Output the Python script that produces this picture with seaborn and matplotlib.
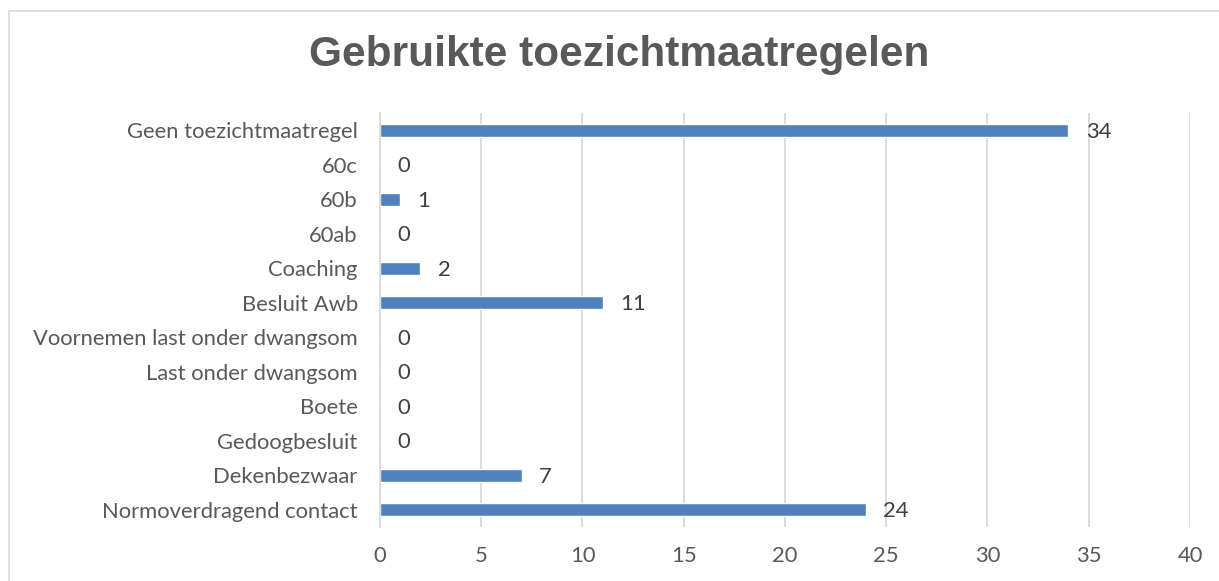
import matplotlib
matplotlib.use("Agg")
import matplotlib.pyplot as plt
import seaborn as sns
import pandas as pd
from matplotlib.patches import Rectangle


# Data
categories = [
    "Geen toezichtmaatregel",
    "60c",
    "60b",
    "60ab",
    "Coaching",
    "Besluit Awb",
    "Voornemen last onder dwangsom",
    "Last onder dwangsom",
    "Boete",
    "Gedoogbesluit",
    "Dekenbezwaar",
    "Normoverdragend contact",
]
counts = [34, 0, 1, 0, 2, 11, 0, 0, 0, 0, 7, 24]
x_ticks = [0, 5, 10, 15, 20, 25, 30, 35, 40]

df = pd.DataFrame({"categorie": categories, "aantal": counts})


# Style
sns.set_style("white")
plt.rcParams["font.family"] = ["Lato", "DejaVu Sans"]

TEXT = "#595959"
BAR = "#4F81BD"

fig = plt.figure(figsize=(12.19, 5.81), dpi=100)
ax = fig.add_axes([0.3117, 0.093, 0.6645, 0.7125])

sns.barplot(
    data=df,
    x="aantal",
    y="categorie",
    order=categories,
    color=BAR,
    width=0.38,
    saturation=1,
    ax=ax
)

ax.set_xlim(0, 40)
ax.set_ylim(len(categories) - 0.5, -0.5)
ax.set_xticks(x_ticks)
ax.grid(axis="x", color="#D9D9D9", linewidth=1.3)
ax.set_axisbelow(True)

for side in ["top", "right", "bottom"]:
    ax.spines[side].set_visible(False)
ax.spines["left"].set_color("#D9D9D9")
ax.spines["left"].set_linewidth(1.3)

ax.tick_params(axis="both", length=0, labelsize=15.8, labelcolor=TEXT)
ax.tick_params(axis="y", pad=16)
ax.tick_params(axis="x", pad=14)
ax.set_xlabel("")
ax.set_ylabel("")

# Value labels
for i, v in enumerate(counts):
    ax.text(v + 0.85, i + 0.05, str(v), va="center", ha="left",
            fontsize=15.8, color="#404040")

fig.text(0.508, 0.905, "Gebruikte toezichtmaatregelen",
         ha="center", va="center", fontsize=30.5, fontweight="bold",
         color=TEXT, family=["Liberation Sans", "DejaVu Sans"])

# Chart border
fig.patches.append(Rectangle(
    (9 / 1219, -0.1), 1.2, 1 - 11 / 581 + 0.1,
    transform=fig.transFigure, fill=False,
    edgecolor="#D9D9D9", linewidth=1.2
))

fig.savefig("out.png", dpi=100)
plt.close()
